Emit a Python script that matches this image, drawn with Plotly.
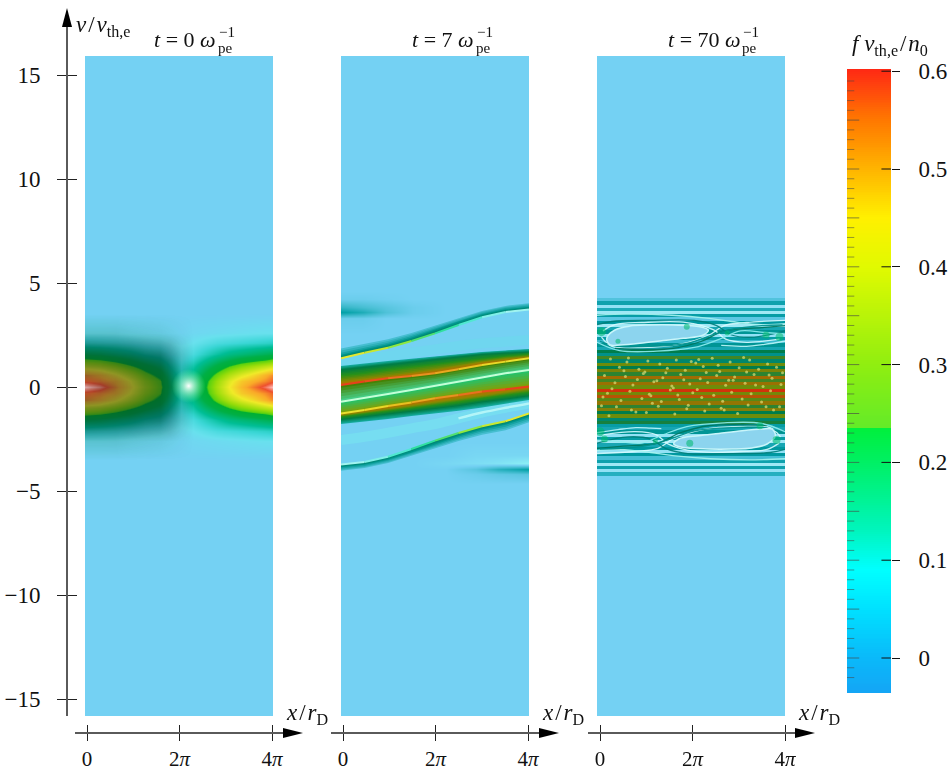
import numpy as np
import plotly.graph_objects as go

W, H = 951, 769
FONT = "Liberation Serif"
TXT = "#111111"
AXC = "#5a5a5a"
BG = "rgb(116,209,243)"

# ---------- panel 1 (t = 0) ----------
v1_half = [0.0, 0.3, 0.6, 1.0, 1.3, 1.6, 2.1, 2.6, 3.5]
x1 = [0, 1, 2, 3, 4, 5, 5.7, 6.4, 7.2, 8, 8.8, 9.6, 10.4, 11.2, 12, 12.57]
f1_half = [
    [.60, .57, .50, .42, .33, .26, .16, .09, .14, .23, .32, .40, .46, .51, .56, .60],
    [.53, .51, .475, .40, .31, .25, .15, .085, .13, .22, .305, .38, .44, .47, .50, .53],
    [.50, .47, .415, .35, .27, .215, .13, .075, .115, .19, .265, .33, .38, .42, .465, .50],
    [.36, .34, .30, .25, .20, .155, .095, .055, .085, .14, .19, .24, .28, .31, .34, .36],
    [.26, .245, .215, .18, .14, .11, .07, .04, .06, .10, .14, .17, .20, .22, .24, .26],
    [.17, .16, .14, .12, .09, .075, .045, .03, .04, .065, .09, .115, .13, .145, .16, .17],
    [.065, .06, .055, .045, .035, .03, .02, .015, .02, .03, .04, .045, .05, .055, .06, .065],
    [.02, .02, .018, .015, .012, .01, .008, .005, .008, .01, .012, .014, .016, .018, .02, .02],
    [0, 0, 0, 0, 0, 0, 0, 0, 0, 0, 0, 0, 0, 0, 0, 0],
]
shade1_half = [
    [.15, .30, .38, .40, .42, .42, .35, .10, 0, 0, 0, 0, 0, 0, 0, 0],
    [.22, .32, .38, .40, .42, .42, .35, .10, 0, 0, 0, 0, 0, 0, 0, 0],
    [.38, .38, .40, .42, .42, .42, .35, .12, 0, 0, 0, 0, 0, 0, 0, 0],
    [.42, .42, .42, .42, .42, .42, .35, .15, 0, 0, 0, 0, 0, 0, 0, 0],
    [.38, .38, .40, .42, .42, .42, .35, .15, 0, 0, 0, 0, 0, 0, 0, 0],
    [.40, .40, .40, .40, .40, .40, .32, .14, 0, 0, 0, 0, 0, 0, 0, 0],
    [.30, .30, .30, .30, .28, .25, .20, .08, 0, 0, 0, 0, 0, 0, 0, 0],
    [.15, .15, .15, .12, .10, .08, .05, .02, 0, 0, 0, 0, 0, 0, 0, 0],
    [0, 0, 0, 0, 0, 0, 0, 0, 0, 0, 0, 0, 0, 0, 0, 0],
]
spot_x, spot_v = [6.93], [0.05]

# ---------- panel 2 (t = 7) ----------
x2 = [0, 1.571, 3.142, 4.712, 6.283, 7.854, 9.425, 10.996, 12.566]
A_line = [1.38, 1.65, 1.89, 2.21, 2.58, 2.98, 3.35, 3.61, 3.73]
A_in = [1.55, 1.82, 2.05, 2.38, 2.76, 3.15, 3.50, 3.74, 3.86]
A_out = [1.85, 2.08, 2.30, 2.60, 2.95, 3.30, 3.65, 3.90, 4.03]
E_line = [-3.73, -3.61, -3.35, -2.98, -2.58, -2.21, -1.89, -1.65, -1.27]
E_in = [-3.86, -3.74, -3.50, -3.15, -2.76, -2.38, -2.05, -1.82, -1.45]
E_out = [-4.03, -3.90, -3.65, -3.30, -2.95, -2.60, -2.30, -2.08, -1.70]
Glow_up = [1.17, 1.33, 1.49, 1.65, 1.81, 1.97, 2.10, 2.18, 2.26]
Glow_dn = [-2.55, -2.39, -2.20, -1.99, -1.78, -1.51, -1.23, -1.00, -.79]
T_teal = [1.01, 1.14, 1.25, 1.36, 1.47, 1.59, 1.68, 1.76, 1.83]
T_dg = [.85, .98, 1.11, 1.22, 1.35, 1.47, 1.59, 1.65, 1.70]
T_ol = [.58, .69, .85, .98, 1.12, 1.25, 1.38, 1.49, 1.59]
T_or = [.29, .42, .58, .69, .85, 1.03, 1.22, 1.36, 1.47]
R1 = [.10, .26, .42, .53, .66, .85, 1.06, 1.22, 1.38]
W_line = [-.71, -.54, -.34, -.14, .05, .26, .46, .66, .82]
R2 = [-1.27, -1.11, -.91, -.74, -.54, -.38, -.22, -.11, .02]
L_or = [-1.36, -1.22, -1.06, -.91, -.75, -.59, -.40, -.27, -.11]
L_ol = [-1.44, -1.31, -1.17, -1.03, -.88, -.74, -.56, -.42, -.27]
L_dg = [-1.59, -1.46, -1.33, -1.20, -1.07, -.93, -.75, -.59, -.45]
L_teal = [-1.78, -1.67, -1.54, -1.39, -1.27, -1.14, -.98, -.79, -.62]
A_cols = ["#e4e830", "#c8e830", "#8ee840", "#50e070", "#30e0a0", "#50e8d0", "#80f0e8", "#a0f4f0"]
E_cols = ["#a0f4f0", "#80f0e8", "#50e8d0", "#30e0a0", "#50e070", "#8ee840", "#c8e830", "#e4e830"]
R1_cols = ["#e8401c", "#e8501c", "#e87020", "#e89020", "#e8a820", "#e8c020", "#e8d828", "#e8e030"]
R2_cols = ["#e8e030", "#e8d828", "#e8c020", "#e8a820", "#e89020", "#e87020", "#e8501c", "#e8401c"]
x2_blob = [0, 1.5, 3, 4.8, 7, 9, 10.5, 12.566]
v2_blob = [-4.6, -4.2, -3.95, -3.65, -3.3, -2.6, 2.6, 3.3, 3.6, 3.85, 4.2, 4.6]
f2_blob = [
    [0, 0, 0, 0, 0, 0, 0, 0],
    [0, 0, 0, 0, 0, .01, .02, .03],
    [0, 0, 0, 0, 0, .03, .08, .12],
    [0, 0, 0, 0, -.01, -.02, -.03, -.05],
    [0, 0, 0, 0, 0, -.01, -.01, -.01],
    [0, 0, 0, 0, 0, 0, 0, 0],
    [0, 0, 0, 0, 0, 0, 0, 0],
    [.01, .01, 0, 0, 0, 0, 0, 0],
    [.12, .09, .04, .01, 0, 0, 0, 0],
    [.07, .05, .03, .01, 0, 0, 0, 0],
    [.01, .01, .005, 0, 0, 0, 0, 0],
    [0, 0, 0, 0, 0, 0, 0, 0],
]

# ---------- panel 3 (t = 70) ----------
f3_rows = [
    0, .03, .10, -.02, .08, -.03, .11, .02, .12, -.03, .09, .13, -.02, .11, .05, .13, .09,
    .20, .14, .26, .17, .30, .20, .34, .24, .44, .26, .42, .30, .58, .32, .50, .28, .40, .24, .36, .20, .30, .17, .22,
    .11, .09, .13, -.02, .11, -.03, .09, .12, -.02, .12, .04, .10, -.03, .10, -.02, .07, 0,
]
x3_span = [0, 12.566]
island_up_x = [.65, 1.2, 2.2, 3.54, 5.1, 6.88, 7.44, 7.11, 5.77, 4.43, 2.87, 1.54, .87]
island_up_v = [2.34, 2.74, 2.93, 2.98, 2.98, 2.9, 2.74, 2.5, 2.34, 2.23, 2.1, 2.02, 2.02]
island_dn_x = [11.92, 11.37, 10.37, 9.03, 7.47, 5.69, 5.13, 5.46, 6.8, 8.14, 9.7, 11.03, 11.7]
island_dn_v = [-2.34, -2.74, -2.93, -2.98, -2.98, -2.9, -2.74, -2.5, -2.34, -2.23, -2.1, -2.02, -2.02]
swirls = [
    ("#d8fbff", [.3, 1, 3, 5.5, 7.5, 8.5, 10, 12.57], [2.4, 1.95, 1.9, 2.05, 2.5, 2.95, 3.1, 3.2]),
    ("#007f7a", [0, 1, 3.5, 6.5, 8, 9, 10.5, 12.57], [3.0, 3.15, 3.2, 3.2, 2.95, 2.5, 2.4, 2.7]),
    ("#d8fbff", [.4, 1.2, 3, 6, 7.8, 8.6, 10, 12.2], [2.7, 3.0, 3.1, 3.1, 2.75, 2.3, 2.15, 2.3]),
    ("#00755c", [1.2, 5, 7, 8.5, 11, 12.57], [1.85, 1.85, 2.2, 2.7, 2.85, 2.95]),
    ("#a8f4f0", [0, 2, 5, 7.5, 9, 11, 12.57], [3.45, 3.5, 3.45, 3.3, 3.15, 3.0, 3.05]),
    ("#8feef0", [0, 1.5, 4, 6.5, 8.2, 9.6, 11.2, 12.57], [2.15, 1.75, 1.72, 1.9, 2.3, 2.7, 2.62, 2.55]),
    ("#00908c", [.2, 1.3, 3.5, 6, 7.9, 9.2, 11, 12.4], [2.2, 1.98, 1.95, 2.1, 2.55, 2.8, 2.95, 2.98]),
    ("#bff8fb", [8.3, 9, 10, 11.2, 12.57], [2.0, 1.98, 1.95, 2.05, 2.2]),
    ("#d8fbff", [12.27, 11.57, 9.57, 7.07, 5.07, 4.07, 2.57, 0], [-2.4, -1.95, -1.9, -2.05, -2.5, -2.95, -3.1, -3.2]),
    ("#007f7a", [12.57, 11.57, 9.07, 6.07, 4.57, 3.57, 2.07, 0], [-3.0, -3.15, -3.2, -3.2, -2.95, -2.5, -2.4, -2.7]),
    ("#d8fbff", [12.17, 11.37, 9.57, 6.57, 4.77, 3.97, 2.57, .37], [-2.7, -3.0, -3.1, -3.1, -2.75, -2.3, -2.15, -2.3]),
    ("#00755c", [11.37, 7.57, 5.57, 4.07, 1.57, 0], [-1.85, -1.85, -2.2, -2.7, -2.85, -2.95]),
    ("#a8f4f0", [12.57, 10.57, 7.57, 5.07, 3.57, 1.57, 0], [-3.45, -3.5, -3.45, -3.3, -3.15, -3.0, -3.05]),
    ("#8feef0", [12.57, 11, 8.5, 6, 4.4, 3, 1.4, 0], [-2.15, -1.75, -1.72, -1.9, -2.3, -2.7, -2.62, -2.55]),
    ("#00908c", [12.4, 11.3, 9, 6.6, 4.7, 3.4, 1.6, .2], [-2.2, -1.98, -1.95, -2.1, -2.55, -2.8, -2.95, -2.98]),
    ("#bff8fb", [4.3, 3.6, 2.6, 1.4, 0], [-2.0, -1.98, -1.95, -2.05, -2.2]),
]
patch_x = [.3, 6.0, 11.3, 12.2, .2, 10.9, 6.2, 12.0, .5, 1.4, 8.7, 3.9]
patch_v = [2.66, 2.9, 2.5, 2.4, -2.15, -1.86, -2.7, -2.55, -2.5, 2.2, 2.6, -2.6]
patch_s = [9, 6, 7, 8, 9, 7, 7, 8, 7, 5, 5, 5]
speck_x = [.9, 2.1, 3.4, 4.2, 5.3, 6.6, 7.7, 8.9, 10.2, 11.4, 1.5, 2.8, 4.7, 5.9, 7.1, 8.2, 9.5, 10.8, 12.0,
           .5, 1.9, 3.1, 4.4, 5.6, 6.9, 8.0, 9.2, 10.5, 11.7, 1.2, 2.4, 3.8, 5.0, 6.2, 7.4, 8.6, 9.9, 11.1, 12.3,
           .7, 2.2, 3.5, 4.9, 6.4, 7.8, 9.0, 10.3, 11.6, 1.6, 3.0, 4.3, 5.5, 7.0, 8.4, 9.7, 11.0, .3, 12.2, 6.0, 2.6,
           3.2, 4.0, 5.1, 5.8, 6.7, 7.3, 8.1, 9.1, 10.0, 1.0, 1.8, 2.7, 3.6, 4.6, 5.4, 6.3, 7.5, 8.8, 10.6, 11.8,
           .4, 1.3, 2.3, 3.3, 4.1, 5.2, 6.1, 7.2, 8.3, 9.4, 10.1, 11.3, 12.4, 2.0, 3.7, 6.8, 8.5, 9.8, 11.5, .8]
speck_v = [1.35, 1.4, 1.25, 1.1, 1.3, 1.15, 1.38, 1.2, 1.3, 1.1, .95, .85, .9, .8, .98, .75, .92, .85, .95,
           .55, .5, .65, .45, .6, .4, .55, .48, .6, .42, .2, .1, .25, .05, .15, .22, .08, .18, .02, .12,
           -.3, -.2, -.35, -.15, -.28, -.4, -.25, -.33, -.18, -.65, -.55, -.7, -.6, -.5, -.68, -.58, -.72, -.9, -.95, -1.05, -1.2,
           .72, .3, -.05, .35, -.12, .7, 1.05, .33, .72, -.08, .78, .36, -.42, .68, -.38, 1.22, -.82, .32, .1, -1.1,
           -.48, -.95, -1.1, -1.22, -.92, -1.3, -.88, -1.15, -1.02, -1.28, -.86, -.95, .68, 1.2, -.78, 1.32, -1.1, 1.42, .58, -1.38]

# ---------- colour bar ----------
cb_ticks = [0, .1, .2, .3, .4, .5, .6]
cb_scale_vals = [-.036, 0, .05, .09, .13, .2, .235, .236, .3, .4, .45, .5, .55, .602]
cb_scale_cols = ["#14a5f5", "#0ab9fa", "#00e1ff", "#00ffff", "#00f5be", "#00f064", "#00f03c", "#64eb28",
                 "#90ee10", "#e1fa00", "#fff000", "#ffb400", "#ff7800", "#ff2814"]


def cs(vals, cols):
    lo, hi = vals[0], vals[-1]
    return [[(v - lo) / (hi - lo), c] for v, c in zip(vals, cols)]


lit_scale = cs([0, .02, .05, .1, .18, .235, .25, .3, .4, .48, .54, .6],
               [BG, "rgb(105,225,238)", "rgb(60,215,215)", "rgb(0,190,150)", "rgb(0,175,70)", "rgb(0,175,50)",
                "rgb(90,210,15)", "rgb(150,220,10)", "rgb(240,235,40)", "rgb(250,170,40)", "rgb(238,80,45)",
                "rgb(255,195,195)"])
blob_scale = cs([-.05, 0, .05, .12], ["rgb(140,240,245)", BG, "rgb(70,190,210)", "rgb(0,160,165)"])
p3_scale = cs([-.04, 0, .06, .12, .2, .3, .45, .58],
              ["rgb(175,240,246)", BG, "rgb(45,180,198)", "rgb(0,152,160)", "rgb(0,125,75)",
               "rgb(110,140,10)", "rgb(165,105,0)", "rgb(210,50,10)"])
cb_scale = cs(cb_scale_vals, cb_scale_cols)
shade_scale = [[0, "rgba(0,20,30,0)"], [1, "rgba(0,20,30,1)"]]


def fx(px):
    return px / W


def fy(py):
    return 1 - py / H


V_PER_PX = 1 / 20.8
V0_PX = 387
vr = [(V0_PX - 716) * V_PER_PX, (V0_PX - 56) * V_PER_PX]
panels = [(85, 273), (341, 529), (597, 785)]
fig = go.Figure()
layout = dict(width=W, height=H, margin=dict(l=0, r=0, t=0, b=0, pad=0), autosize=False, template="none",
              paper_bgcolor="white", plot_bgcolor="rgba(0,0,0,0)", showlegend=False,
              font=dict(family=FONT, size=23, color=TXT))
for i, (a, b) in enumerate(panels):
    s = "" if i == 0 else str(i + 1)
    layout["xaxis" + s] = dict(domain=[fx(a), fx(b)], range=[0, 12.566], visible=False, anchor="y" + s)
    layout["yaxis" + s] = dict(domain=[fy(716), fy(56)], range=vr, visible=False, anchor="x" + s)


def heat(x, y, z, scale, zmin, zmax, xa, ya, smooth="best"):
    fig.add_trace(go.Heatmap(x=x, y=y, z=z, colorscale=scale, zmin=zmin, zmax=zmax, zsmooth=smooth,
                             showscale=False, hoverinfo="skip", xaxis=xa, yaxis=ya))


def line(x, y, color, width, xa, ya, opacity=1.0, shape="linear"):
    fig.add_trace(go.Scatter(x=x, y=y, mode="lines", line=dict(color=color, width=width, shape=shape),
                             opacity=opacity, hoverinfo="skip", xaxis=xa, yaxis=ya))


def band(low, up, color, xa="x2", ya="y2"):
    fig.add_trace(go.Scatter(x=x2, y=list(low), mode="lines", line=dict(width=0), hoverinfo="skip", xaxis=xa, yaxis=ya))
    fig.add_trace(go.Scatter(x=x2, y=list(up), mode="lines", line=dict(width=0), fill="tonexty", fillcolor=color,
                             hoverinfo="skip", xaxis=xa, yaxis=ya))


def grade(base, contours, colours, steps=4):
    """Paint nested fills from `base` out to each read contour, outermost first, so colour shades between contours."""
    for k in range(len(contours) - 1):
        c0, c1 = np.array(contours[k]), np.array(contours[k + 1])
        p0, p1 = np.array(colours[k]), np.array(colours[k + 1])
        for s in range(steps):
            t = s / steps
            lvl = c0 + (c1 - c0) * t
            col = p0 + (p1 - p0) * t
            band(*(sorted([tuple(base), tuple(lvl)], key=lambda a: a[0])),
                 f"rgb({col[0]:.0f},{col[1]:.0f},{col[2]:.0f})")


def seg(y, cols, width):
    for i in range(len(cols)):
        line(x2[i:i + 2], y[i:i + 2], cols[i], width, "x2", "y2")


# panel 1
v1 = [-v for v in v1_half[:0:-1]] + v1_half
f1 = f1_half[:0:-1] + f1_half
shade1 = shade1_half[:0:-1] + shade1_half
heat([0, 12.566], [vr[0], vr[1]], [[0, 0], [0, 0]], lit_scale, 0, .6, "x", "y", False)
heat(x1, v1, f1, lit_scale, 0, .6, "x", "y")
heat(x1, v1, shade1, shade_scale, 0, 1, "x", "y")
fig.add_trace(go.Scatter(x=spot_x, y=spot_v, mode="markers", hoverinfo="skip", xaxis="x", yaxis="y",
                         marker=dict(size=34, color="rgba(130,255,170,0)", line=dict(width=0),
                                     gradient=dict(type="radial", color="rgba(255,255,255,1)"))))

# panel 2
heat([0, 12.566], [vr[0], vr[1]], [[0, 0], [0, 0]], blob_scale, -.05, .12, "x2", "y2", False)
heat(x2_blob, v2_blob, f2_blob, blob_scale, -.05, .12, "x2", "y2")
line(x2, Glow_up, "rgb(105,222,235)", 10, "x2", "y2", .4, "spline")
line(x2, Glow_dn, "rgb(120,232,240)", 10, "x2", "y2", .55, "spline")
line(x2[5:], Glow_dn[5:], "rgb(190,250,250)", 2.5, "x2", "y2", .85, "spline")
grade(A_line, [A_out, A_in, A_line], [(70, 190, 208), (0, 150, 140), (0, 115, 85)], 3)
grade(E_line, [E_out, E_in, E_line], [(70, 190, 208), (0, 150, 140), (0, 115, 85)], 3)
grade(R1, [T_teal, T_dg, T_ol, T_or, R1], [(20, 170, 155), (0, 125, 70), (40, 145, 25), (140, 135, 0), (210, 100, 0)])
grade(R2, [L_teal, L_dg, L_ol, L_or, R2], [(20, 170, 155), (0, 125, 70), (40, 145, 25), (140, 135, 0), (210, 100, 0)])
band(R2, R1, "rgb(0,140,70)")
grade(W_line, [R1, W_line], [(70, 130, 5), (70, 220, 160)], 6)
grade(W_line, [R2, W_line], [(125, 160, 10), (20, 200, 125)], 6)
line(x2, W_line, "rgb(195,255,215)", 2, "x2", "y2")
seg(A_line, A_cols, 2)
seg(E_line, E_cols, 2)
seg(R1, R1_cols, 2)
seg(R2, R2_cols, 2)

# panel 3
v3 = np.linspace(4.35, -4.35, len(f3_rows))
heat([0, 12.566], [vr[0], vr[1]], [[0, 0], [0, 0]], p3_scale, -.04, .58, "x3", "y3", False)
heat(x3_span, v3, [[f, f] for f in f3_rows], p3_scale, -.04, .58, "x3", "y3", False)
for col, sx, sv in swirls:
    line(sx, sv, col, 1.3, "x3", "y3", .9, "spline")
for ix, iv in ((island_up_x, island_up_v), (island_dn_x, island_dn_v)):
    fig.add_trace(go.Scatter(x=ix + ix[:1], y=iv + iv[:1], mode="lines", fill="toself", fillcolor="rgb(140,212,238)",
                             line=dict(color="rgb(200,245,250)", width=1.5, shape="spline"),
                             hoverinfo="skip", xaxis="x3", yaxis="y3"))
fig.add_trace(go.Scatter(x=patch_x, y=patch_v, mode="markers", opacity=.8,
                         marker=dict(size=patch_s, color="rgb(0,185,110)", line=dict(width=0)),
                         hoverinfo="skip", xaxis="x3", yaxis="y3"))
fig.add_trace(go.Scatter(x=speck_x, y=speck_v, mode="markers", opacity=.7,
                         marker=dict(size=3, color="rgb(222,222,120)", line=dict(width=0)),
                         hoverinfo="skip", xaxis="x3", yaxis="y3"))

# colour bar
cb_z = np.linspace(-.036, .602, 320)
layout["xaxis4"] = dict(domain=[fx(847), fx(891)], range=[0, 1], visible=False, anchor="y4")
cb_range = [(658 - 693) / 978, (658 - 69) / 978]
layout["yaxis4"] = dict(domain=[fy(693), fy(69)], range=cb_range, anchor="x4", side="left", showgrid=False,
                        showline=False, zeroline=False, showticklabels=False, ticks="")
fig.add_trace(go.Heatmap(x=[0, 1], y=cb_z, z=[[v, v] for v in cb_z], colorscale=cb_scale, zmin=-.036, zmax=.602,
                         showscale=False, hoverinfo="skip", xaxis="x4", yaxis="y4"))
minor = [t for t in np.arange(-.02, .6, .01) if abs(t / .05 - round(t / .05)) > .01]
major = [t for t in np.arange(-.0, .6, .05)]
fig.add_trace(go.Scatter(x=[.07] * len(minor), y=minor, mode="markers", hoverinfo="skip", xaxis="x4", yaxis="y4",
                         marker=dict(symbol="line-ew", size=6, line=dict(color="rgba(70,70,70,.55)", width=1))))
fig.add_trace(go.Scatter(x=[.12] * len(major), y=major, mode="markers", hoverinfo="skip", xaxis="x4", yaxis="y4",
                         marker=dict(symbol="line-ew", size=10, line=dict(color="rgba(70,70,70,.65)", width=1))))
fig.add_trace(go.Scatter(x=[.91] * len(cb_ticks), y=cb_ticks, mode="markers", hoverinfo="skip", xaxis="x4", yaxis="y4",
                         marker=dict(symbol="line-ew", size=8, line=dict(color="#111", width=1))))
layout["yaxis5"] = dict(domain=[fy(693), fy(69)], range=cb_range, anchor="x4", side="right",
                        showgrid=False, showline=False, zeroline=False, tickmode="array",
                        tickvals=cb_ticks, ticktext=[str(t) for t in cb_ticks], ticks="outside", ticklen=8,
                        tickwidth=1, tickcolor="#111", showticklabels=True,
                        ticklabelstandoff=14, tickfont=dict(family=FONT, size=23, color=TXT))
fig.add_trace(go.Scatter(x=[0], y=[0], mode="markers", marker=dict(opacity=0), hoverinfo="skip",
                         xaxis="x4", yaxis="y5"))

# main v axis
v_ticks = [-15, -10, -5, 0, 5, 10, 15]
v_labels = ["\u221215", "\u221210", "\u22125", "0", "5", "10", "15"]
vax_range = [(V0_PX - 716) * V_PER_PX, (V0_PX - 12) * V_PER_PX]
for name, ticks, labels in (("y7", "outside", True), ("y8", "inside", False)):
    layout["yaxis" + name[1:]] = dict(domain=[fy(716), fy(12)], range=vax_range, anchor="free", position=fx(67),
                                      side="left", showgrid=False, zeroline=False, showline=True, linecolor=AXC,
                                      linewidth=2, tickmode="array", tickvals=v_ticks, ticktext=v_labels,
                                      ticks=ticks, ticklen=9, tickwidth=1, tickcolor="#222", showticklabels=labels,
                                      ticklabelstandoff=12, tickfont=dict(family=FONT, size=23, color=TXT))
    fig.add_trace(go.Scatter(x=[0], y=[0], mode="markers", marker=dict(opacity=0), hoverinfo="skip",
                             xaxis="x", yaxis=name))

# x axes
x_ticks = [0, 6.283, 12.566]
x_labels = ["0", "2<i>\u03c0</i>", "4<i>\u03c0</i>"]
x_tick_px = [(87, 272), (343, 528), (600, 785)]
n = 5
for t0, t4 in x_tick_px:
    rng = [(t0 - 12 - t0) / (t4 - t0) * 12.566, (t4 + 11 - t0) / (t4 - t0) * 12.566]
    for ticks, labels in (("outside", True), ("inside", False)):
        layout[f"xaxis{n}"] = dict(domain=[fx(t0 - 12), fx(t4 + 11)], range=rng, anchor="free", position=fy(733),
                                   side="bottom", showgrid=False, zeroline=False, showline=True, linecolor=AXC,
                                   linewidth=1.5, tickmode="array", tickvals=x_ticks, ticktext=x_labels, ticks=ticks,
                                   ticklen=7, tickwidth=1, tickcolor="#222", showticklabels=labels,
                                   ticklabelstandoff=0, tickfont=dict(family=FONT, size=21, color=TXT))
        fig.add_trace(go.Scatter(x=[0], y=[0], mode="markers", marker=dict(opacity=0), hoverinfo="skip",
                                 xaxis=f"x{n}", yaxis="y"))
        n += 1

shapes = []
for tip in (303, 559, 815):
    px = [tip - 20, tip, tip - 20]
    py = [728, 733, 738]
    path = "M" + " L".join(f"{fx(a):.5f},{fy(b):.5f}" for a, b in zip(px, py)) + " Z"
    shapes.append(dict(type="path", xref="paper", yref="paper", path=path, fillcolor="black", line=dict(width=0)))
path = "M" + " L".join(f"{fx(a):.5f},{fy(b):.5f}" for a, b in zip([62, 67, 72], [27, 8, 27])) + " Z"
shapes.append(dict(type="path", xref="paper", yref="paper", path=path, fillcolor="black", line=dict(width=0)))
layout["shapes"] = shapes


def note(px, py, text, size=23):
    return dict(x=fx(px), y=fy(py), xref="paper", yref="paper", xanchor="left", yanchor="middle", text=text,
                showarrow=False, align="left", font=dict(family=FONT, size=size, color=TXT), borderpad=0)


ann = [note(75, 26, "<i>v</i>\u200a/\u200a<i>v</i><sub>th,e</sub>", 23)]
for x0, label, end in ((153, "0", 217), (411, "7", 475), (667, "70", 741)):
    ann.append(note(x0, 39, f"<i>t</i> = {label} <i>\u03c9</i>", 22))
    ann.append(note(end, 48, "pe", 15))
    ann.append(note(end + 1, 32, "\u22121", 15))
for x0 in (285, 541, 797):
    ann.append(note(x0, 714, "<i>x</i>\u200a/\u200a<i>r</i><sub>D</sub>", 23))
ann.append(note(851, 45, "<i>f v</i><sub>th,e</sub>\u200a/\u200a<i>n</i><sub>0</sub>", 23))
layout["annotations"] = ann

fig.update_layout(**layout)
fig.write_html("out.html", post_script="document.body.style.margin='0';", config=dict(displayModeBar=False))
